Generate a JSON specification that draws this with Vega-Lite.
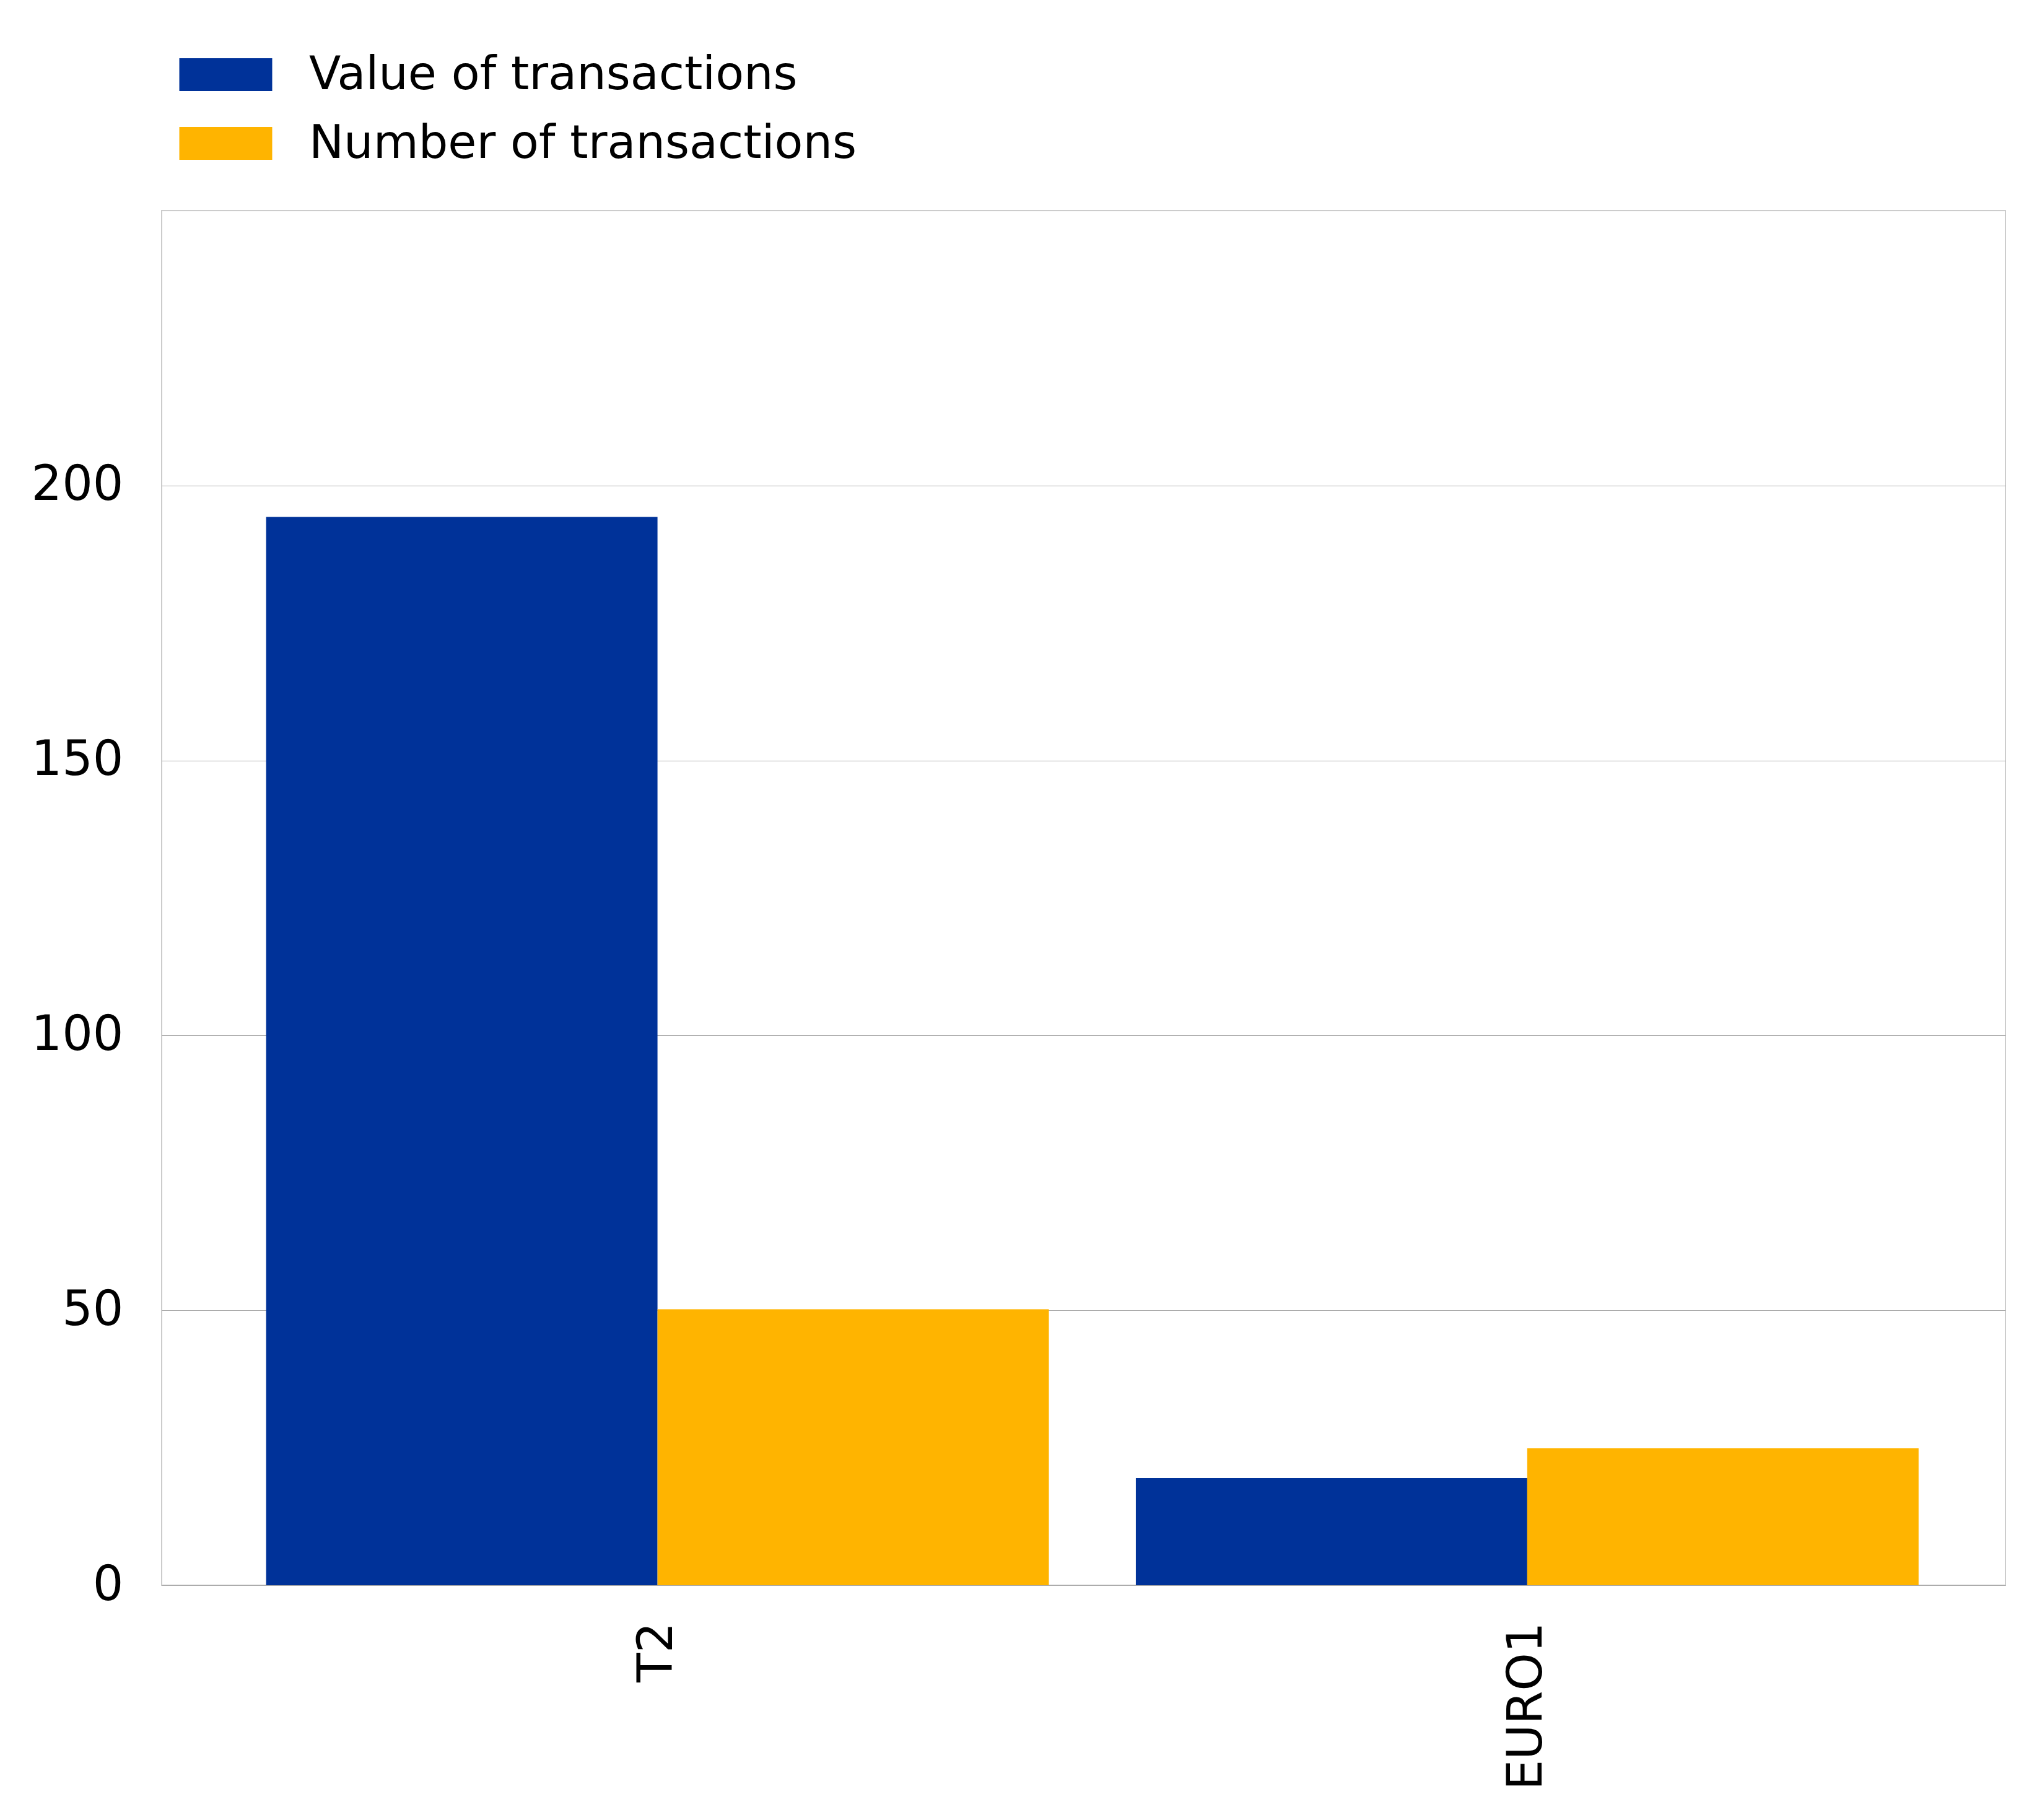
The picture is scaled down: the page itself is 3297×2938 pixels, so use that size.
{
  "$schema": "https://vega.github.io/schema/vega-lite/v6.json",
  "width": 2977,
  "height": 2219,
  "autosize": {"type": "none"},
  "padding": {"left": 261, "top": 340, "right": 59, "bottom": 379},
  "background": "white",
  "data": {
    "values": [
      {"system": "T2", "series": "Value of transactions", "value": 194.3},
      {"system": "T2", "series": "Number of transactions", "value": 50.2},
      {"system": "EURO1", "series": "Value of transactions", "value": 19.5},
      {"system": "EURO1", "series": "Number of transactions", "value": 24.9}
    ]
  },
  "mark": {"type": "bar"},
  "encoding": {
    "x": {
      "field": "system",
      "type": "nominal",
      "sort": ["T2", "EURO1"],
      "scale": {"paddingInner": 0.1, "paddingOuter": 0.11, "align": 0.546},
      "axis": {
        "title": null,
        "labelAngle": -90,
        "labelAlign": "right",
        "labelBaseline": "middle",
        "labelFontSize": 78,
        "labelPadding": 59,
        "labelLimit": 0,
        "ticks": false,
        "tickSize": 0,
        "domain": false,
        "grid": false
      }
    },
    "xOffset": {
      "field": "series",
      "type": "nominal",
      "sort": ["Value of transactions", "Number of transactions"],
      "scale": {"paddingInner": 0, "paddingOuter": 0}
    },
    "y": {
      "field": "value",
      "type": "quantitative",
      "scale": {"domain": [0, 250], "nice": false},
      "axis": {
        "title": null,
        "values": [0, 50, 100, 150, 200],
        "labelFontSize": 78,
        "labelPadding": 62,
        "ticks": false,
        "tickSize": 0,
        "domain": false,
        "grid": true,
        "gridColor": "#aaaaaa",
        "gridWidth": 1.2
      }
    },
    "color": {
      "field": "series",
      "type": "nominal",
      "scale": {
        "domain": ["Value of transactions", "Number of transactions"],
        "range": ["#003299", "#ffb400"]
      },
      "legend": {
        "orient": "none",
        "legendX": 66,
        "legendY": -257,
        "direction": "vertical",
        "title": null,
        "symbolType": "M-2.83,-1H2.83V1H-2.83Z",
        "symbolSize": 2809,
        "symbolStrokeWidth": 0,
        "symbolOpacity": 1,
        "labelFontSize": 75,
        "labelOffset": 97,
        "labelLimit": 0,
        "rowPadding": 35,
        "padding": 0
      }
    }
  },
  "config": {
    "font": "DejaVu Sans",
    "view": {"stroke": "#cccccc", "strokeWidth": 2},
    "axis": {"labelColor": "black", "labelFont": "DejaVu Sans"},
    "legend": {"labelColor": "black", "labelFont": "DejaVu Sans"}
  }
}
